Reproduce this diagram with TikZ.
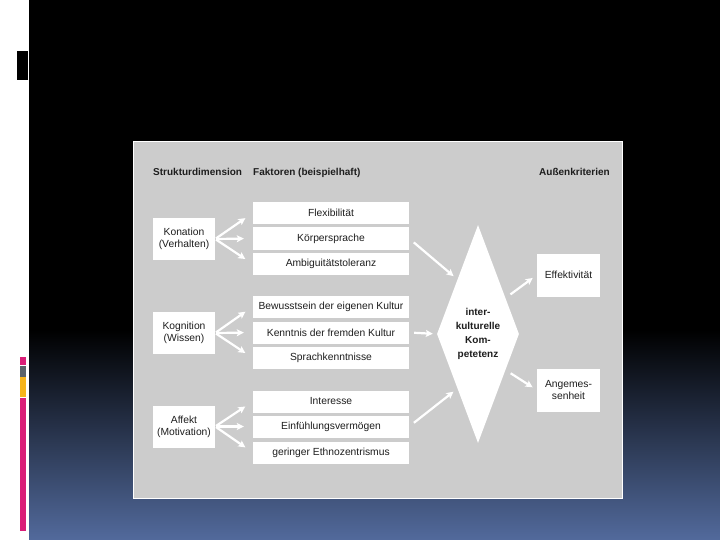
\documentclass[tikz,border=0pt]{standalone}
\usepackage{fontspec}
\setmainfont{Liberation Sans}
\usetikzlibrary{arrows.meta,calc,shapes.geometric}
\definecolor{slideBlue}{RGB}{82,106,156}
\definecolor{panelGray}{RGB}{204,204,204}
\definecolor{barPink}{RGB}{218,30,120}
\definecolor{barGray}{RGB}{90,98,106}
\definecolor{barGold}{RGB}{246,180,28}
\definecolor{inkGray}{RGB}{30,30,30}

\tikzset{
  dimbox/.style={fill=white,minimum width=62pt,minimum height=42pt,inner sep=0pt,
    align=center,text=inkGray,font=\fontsize{10.3}{12}\selectfont},
  faktor/.style={fill=white,minimum width=156pt,minimum height=22pt,inner sep=0pt,
    text=inkGray,font=\fontsize{10.3}{12}\selectfont},
  kriterium/.style={fill=white,minimum width=63pt,minimum height=43pt,inner sep=0pt,
    align=center,text=inkGray,font=\fontsize{10.3}{12}\selectfont},
  kopf/.style={font=\bfseries\fontsize{10}{12}\selectfont,text=inkGray,inner sep=0pt},
  pfeil/.style={white,line width=2.2pt,-{Stealth[length=7pt,width=7pt,inset=1.5pt]}}
}

\begin{document}
\begin{tikzpicture}[x=1pt,y=-1pt]
  \useasboundingbox (0,0) rectangle (720,540);
  % slide background
  \fill[white] (0,0) rectangle (720,540);
  \fill[black] (29,0) rectangle (720,331);
  \shade[top color=black,bottom color=slideBlue] (29,330) rectangle (720,540);
  \fill[black] (17,51) rectangle (28,80);
  \fill[barPink] (20,357) rectangle (26,364.5);
  \fill[barGray] (20,365.5) rectangle (26,377);
  \fill[barGold] (20,377) rectangle (26,396.5);
  \fill[barPink] (20,397.5) rectangle (26,531);

  % panel
  \draw[white,fill=panelGray,line width=1pt] (133.5,141.5) rectangle (622,498);

  \node[kopf,anchor=base west] (hdim) at (153,176) {Strukturdimension};
  \node[kopf,anchor=base west] (hfak) at (253,176) {Faktoren (beispielhaft)};
  \node[kopf,anchor=base east] (hkrit) at (610,176) {Außenkriterien};

  % Strukturdimensionen
  \node[dimbox] (kon) at (184,239) {Konation\\(Verhalten)};
  \node[dimbox] (kog) at (184,333) {Kognition\\(Wissen)};
  \node[dimbox] (aff) at (184,426.5) {Affekt\\(Motivation)};

  % Faktoren
  \foreach \nm/\y/\txt in {flex/213/Flexibilität,koer/238.5/Körpersprache,
      ambi/264/Ambiguitätstoleranz,
      bewu/306.5/Bewusstsein der eigenen Kultur,kenn/332.5/Kenntnis der fremden Kultur,
      spra/358/Sprachkenntnisse,
      inte/401.5/Interesse,einf/426.5/Einfühlungsvermögen,geri/452.5/geringer Ethnozentrismus}
    \node[faktor] (\nm) at (331,\y) {\txt};

  % Kompetenz
  \node[diamond,fill=white,minimum width=82pt,minimum height=218pt,inner sep=0pt,
    aspect=0.376,align=center,text=inkGray,font=\bfseries\fontsize{10}{14}\selectfont]
    (kik) at (478,334) {inter-\\kulturelle\\Kom-\\petetenz};

  % Aussenkriterien
  \node[kriterium] (eff) at (568.5,275) {Effektivität};
  \node[kriterium] (ang) at (568.5,390) {Angemes-\\senheit};

  % Faecher
  \foreach \d/\a/\b/\c in {kon/flex/koer/ambi,kog/bewu/kenn/spra,aff/inte/einf/geri} {
    \draw[pfeil,shorten <=1pt,shorten >=9pt] (\d.east) -- (\a.west);
    \draw[pfeil,shorten <=1pt,shorten >=9pt] (\d.east) -- (\b.west);
    \draw[pfeil,shorten <=1pt,shorten >=9pt] (\d.east) -- (\c.west);
  }

  \draw[pfeil,shorten <=6pt,shorten >=5pt] (koer.east) -- (kik.north west);
  \draw[pfeil,shorten <=5pt,shorten >=4pt] (kenn.east) -- (kik.west);
  \draw[pfeil,shorten <=6pt,shorten >=5pt] (einf.east) -- (kik.south west);

  \draw[pfeil,shorten <=6pt,shorten >=5pt] ($(kik.east)!0.33!(kik.north)$) -- (eff.west);
  \draw[pfeil,shorten <=6pt,shorten >=5pt] ($(kik.east)!0.33!(kik.south)$) -- (ang.west);
\end{tikzpicture}
\end{document}
